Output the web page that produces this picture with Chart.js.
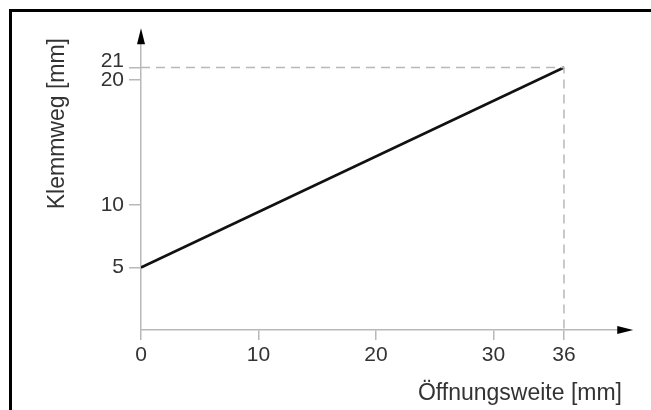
<!DOCTYPE html>
<html>
<head>
    <title>Klemmweg</title>
    <script src="https://cdn.jsdelivr.net/npm/chart.js"></script>
    <style>
        body { margin: 0; background: #fff; }
        canvas { display: block; }
    </style>
</head>
<body>
    <canvas id="chart" width="651" height="410"></canvas>

    <script>
        // Werte aus dem Diagramm
        var oeffnungsweite = [0, 36];
        var klemmweg = [5, 21];
        var xTicks = [0, 10, 20, 30, 36];
        var yTicks = [5, 10, 20, 21];

        var grau = "#b8b8b8";
        var text = "#333333";
        var schrift = "'Liberation Sans', Arial, sans-serif";

        var linie = oeffnungsweite.map(function (x, i) { return { x: x, y: klemmweg[i] }; });
        var endX = oeffnungsweite[oeffnungsweite.length - 1];
        var endY = klemmweg[klemmweg.length - 1];
        var hilfslinie = [{ x: 0, y: endY }, { x: endX, y: endY }, { x: endX, y: 0 }];

        // Rahmen und Pfeile
        var deko = {
            id: "deko",
            beforeDraw: function (chart) {
                var c = chart.ctx;
                c.save();
                c.fillStyle = "#fff";
                c.fillRect(0, 0, chart.width, chart.height);
                c.fillStyle = "#000";
                c.fillRect(9, 9, 3, chart.height);
                c.fillRect(9, 9, chart.width, 3);
                c.restore();
            },
            afterDraw: function (chart) {
                var c = chart.ctx;
                var xs = chart.scales.x, ys = chart.scales.y;
                var x0 = xs.getPixelForValue(0), y0 = ys.getPixelForValue(0);
                var yTip = ys.getPixelForValue(24.15);
                var xTip = xs.getPixelForValue(41.9);
                c.save();
                c.strokeStyle = grau;
                c.lineWidth = 1.5;
                c.beginPath();
                c.moveTo(x0, chart.chartArea.top);
                c.lineTo(x0, yTip + 10);
                c.moveTo(chart.chartArea.right, y0);
                c.lineTo(xTip - 10, y0);
                c.stroke();
                c.fillStyle = "#000";
                c.beginPath();
                c.moveTo(x0, yTip);
                c.lineTo(x0 - 4, yTip + 16);
                c.lineTo(x0 + 4, yTip + 16);
                c.closePath();
                c.fill();
                c.beginPath();
                c.moveTo(xTip, y0);
                c.lineTo(xTip - 16, y0 - 4);
                c.lineTo(xTip - 16, y0 + 4);
                c.closePath();
                c.fill();
                c.restore();
            }
        };

        var chartConfig = {
            type: "scatter",
            data: {
                datasets: [{
                    data: hilfslinie,
                    showLine: true,
                    borderColor: grau,
                    borderWidth: 1.5,
                    borderDash: [9, 6],
                    pointRadius: 0,
                    clip: false
                }, {
                    data: linie,
                    showLine: true,
                    borderColor: "#111",
                    borderWidth: 2.5,
                    pointRadius: 0
                }]
            },
            options: {
                responsive: false,
                animation: false,
                devicePixelRatio: 1,
                layout: { padding: { top: 38, right: 29, left: 0, bottom: 0 } },
                plugins: { legend: { display: false }, tooltip: { enabled: false } },
                scales: {
                    x: {
                        type: "linear",
                        min: 0,
                        max: 40.94,
                        afterBuildTicks: function (s) { s.ticks = xTicks.map(function (v) { return { value: v }; }); },
                        afterFit: function (s) { s.height = 80; },
                        grid: { drawOnChartArea: false, color: grau, tickLength: 10, lineWidth: 1.5 },
                        border: { color: grau, width: 1.5 },
                        ticks: { color: text, padding: 3, maxRotation: 0, autoSkip: false, font: { family: schrift, size: 21 } },
                        title: {
                            display: true,
                            text: "Öffnungsweite [mm]",
                            align: "end",
                            color: text,
                            padding: { top: 0, bottom: 5 },
                            font: { family: schrift, size: 23, lineHeight: 1 }
                        }
                    },
                    y: {
                        type: "linear",
                        min: 0,
                        max: 23.36,
                        afterBuildTicks: function (s) { s.ticks = yTicks.map(function (v) { return { value: v }; }); },
                        afterFit: function (s) { s.width = 141; },
                        grid: { drawOnChartArea: false, color: grau, tickLength: 12, lineWidth: 1.5 },
                        border: { color: grau, width: 1.5 },
                        ticks: {
                            color: text,
                            padding: 5,
                            autoSkip: false,
                            // 21 etwas nach oben, damit es nicht mit 20 kollidiert
                            callback: function (v) { return v === 21 ? ["21", ""] : String(v); },
                            font: function (c) {
                                return { family: schrift, size: 21, lineHeight: c.tick && c.tick.value === 21 ? 0.62 : 1.2 };
                            }
                        },
                        title: {
                            display: true,
                            text: "Klemmweg [mm]",
                            align: "end",
                            color: text,
                            padding: { top: 46, bottom: 0 },
                            font: { family: schrift, size: 23, lineHeight: 1 }
                        }
                    }
                }
            },
            plugins: [deko]
        };

        var ctx = document.getElementById("chart").getContext("2d");
        var chart = new Chart(ctx, chartConfig);
    </script>
</body>
</html>
